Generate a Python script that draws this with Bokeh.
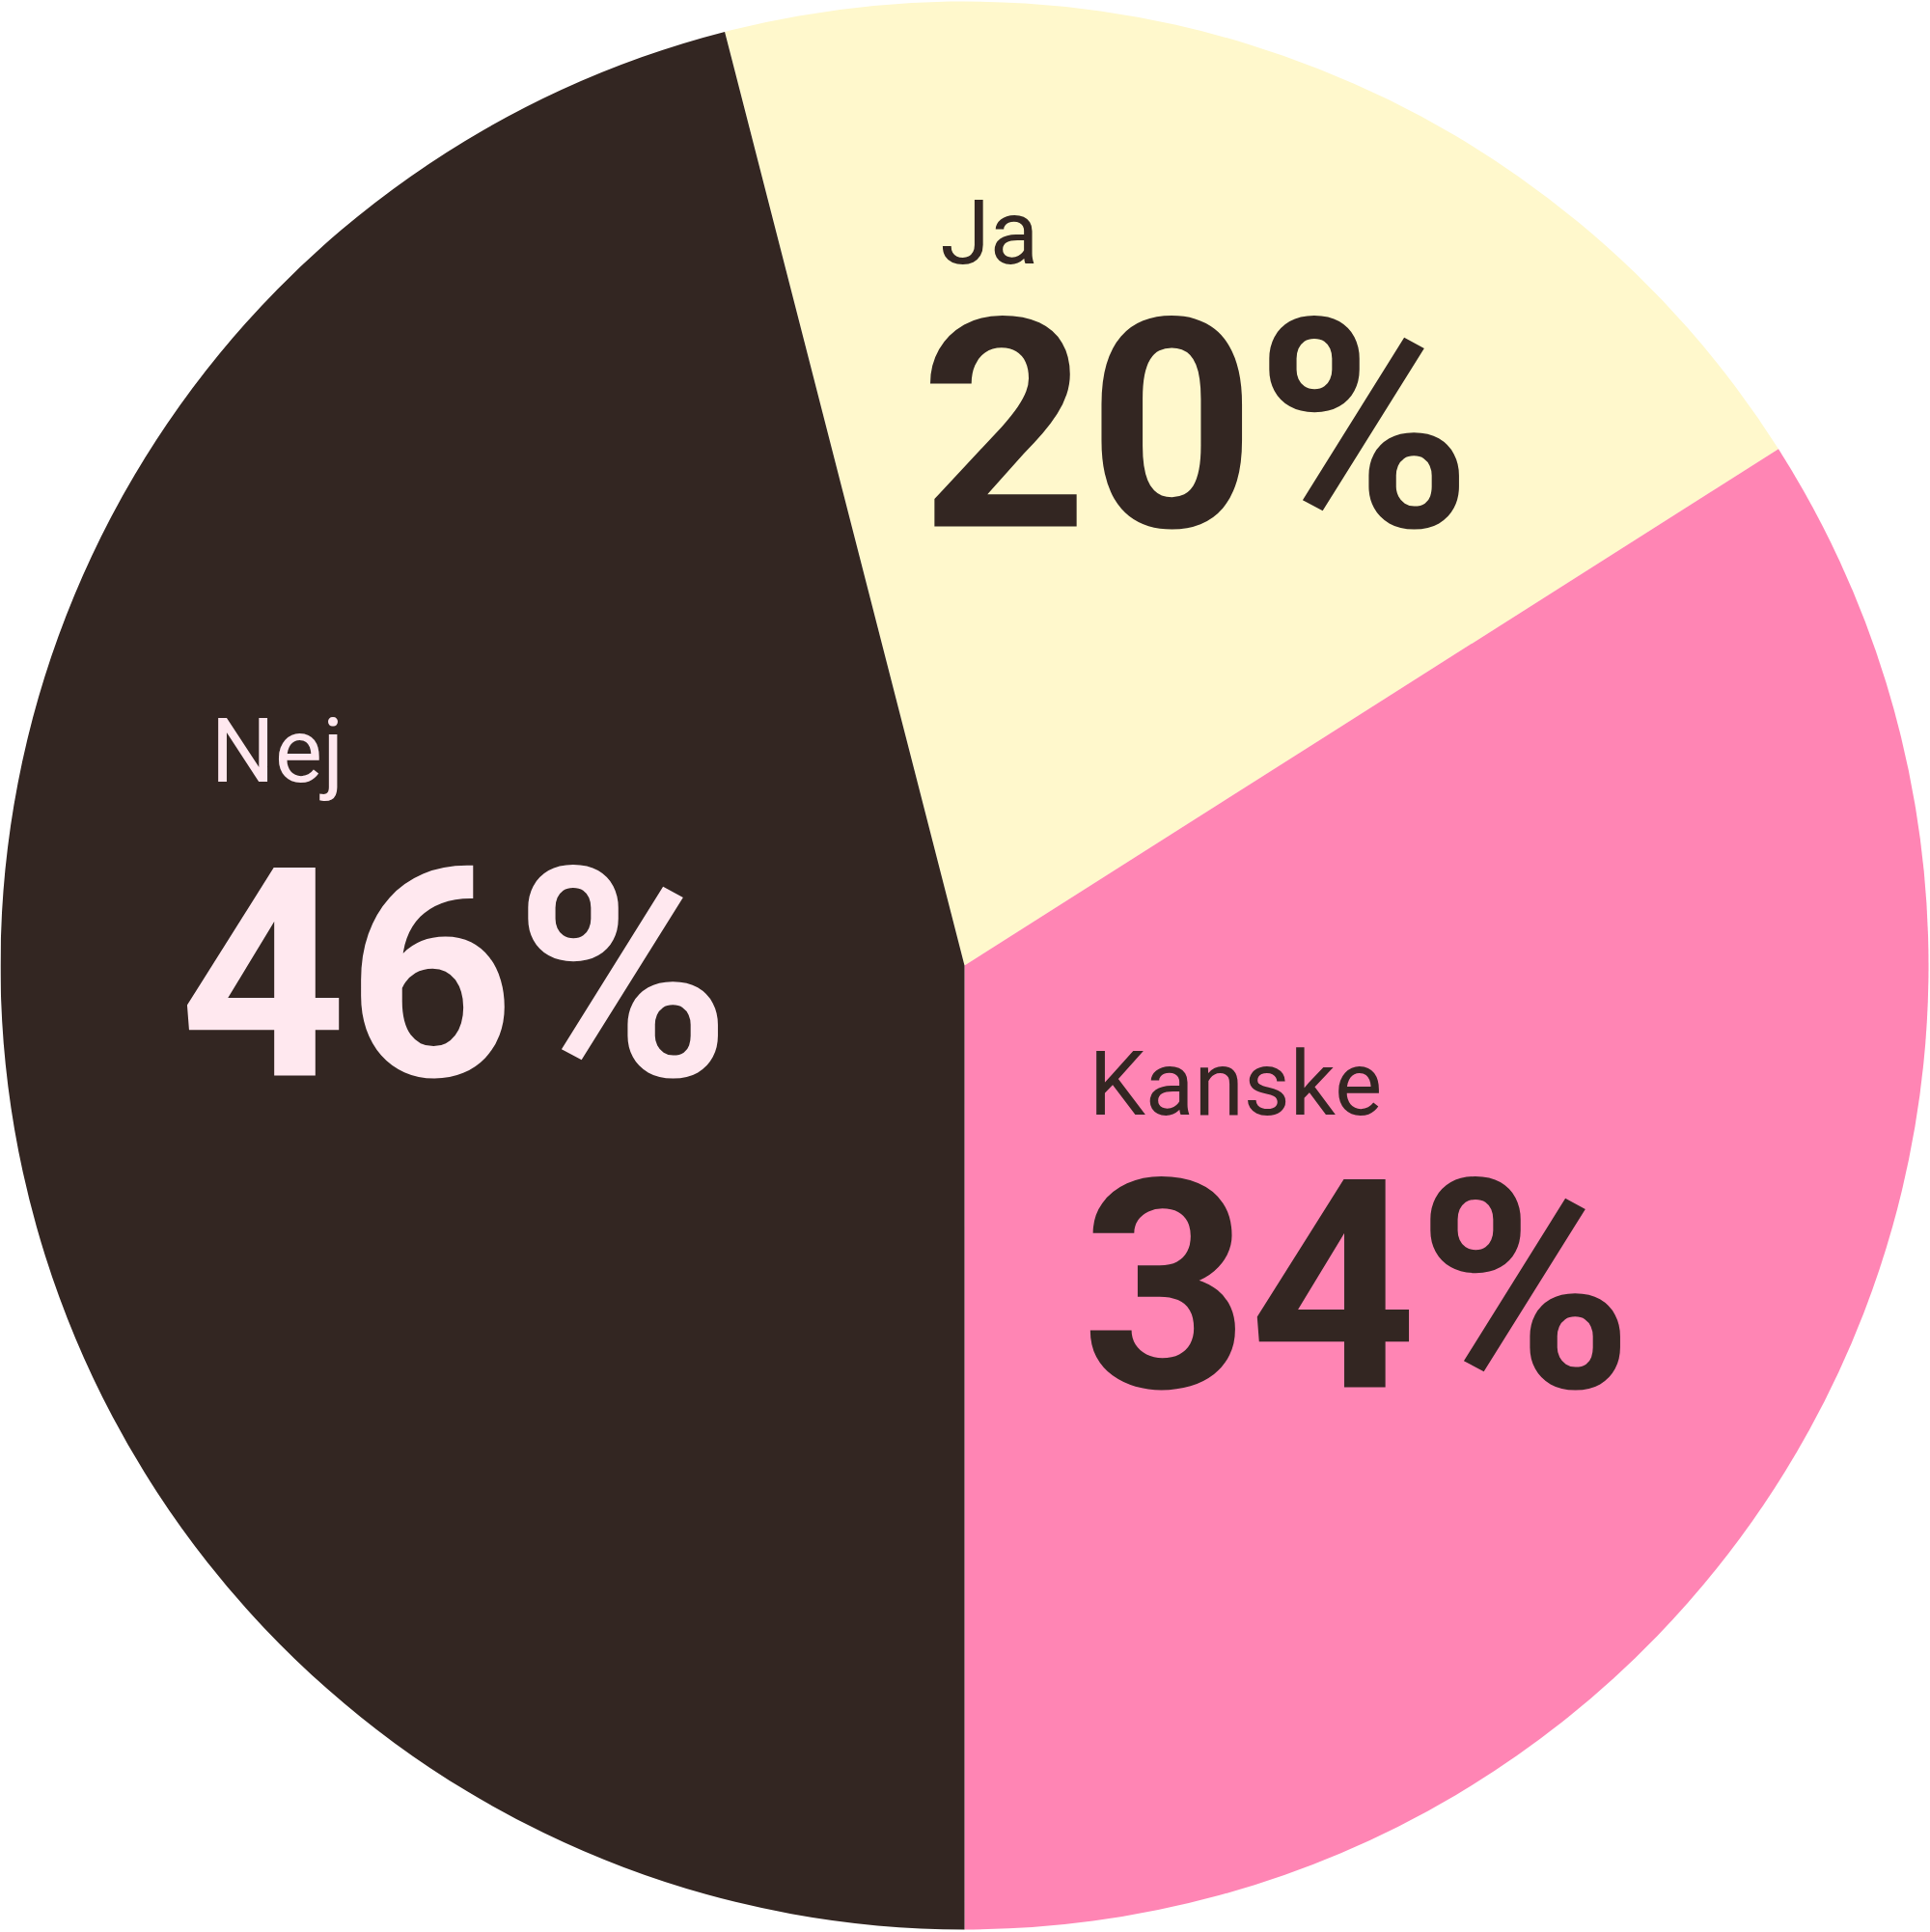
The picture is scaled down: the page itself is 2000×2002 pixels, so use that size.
import math
from bokeh.plotting import figure
from bokeh.models import ColumnDataSource, Range1d
from bokeh.core.properties import value
from bokeh.embed import file_html
from bokeh.resources import INLINE

# ---- data ----
categories = ["Ja", "Kanske", "Nej"]
values = [20, 34, 46]
pct_labels = ["20%", "34%", "46%"]
colors = ["#FFF8CC", "#FF85B4", "#332622"]
text_colors = ["#332622", "#332622", "#FFE8EF"]

# ---- layout constants (reference pixel coords, y down) ----
W, H = 2000, 2002
CX, CY, R = 999, 1000, 999
START_CW_DEG = -14.4          # clockwise from 12 o'clock where first slice starts
label_pos = [(974, 272), (1128, 1154), (218, 809)]     # small label baselines
pct_pos = [(953, 543), (1120, 1435), (185, 1112)]      # big number baselines
LABEL_FS = 93
PCT_FS = 303
BASELINE_FIX = 0.335          # em offset correcting renderer baseline

PW, PH = 2000, 2002
scale = PW / W

total = sum(values)
starts, ends = [], []
acc = START_CW_DEG
for v in values:
    a0 = acc
    a1 = acc + 360.0 * v / total
    starts.append(math.radians(90 - a0))
    ends.append(math.radians(90 - a1))
    acc = a1

src = ColumnDataSource(dict(cat=categories, start=starts, end=ends, color=colors))

p = figure(width=PW, height=PH, output_backend="svg", toolbar_location=None,
           x_range=Range1d(0, W), y_range=Range1d(0, H), min_border=0,
           background_fill_color="white", border_fill_color="white")
p.axis.visible = False
p.grid.visible = False
p.outline_line_color = None

p.wedge(x=CX, y=H - CY, radius=R, start_angle="start", end_angle="end",
        direction="clock", fill_color="color", line_color=None, source=src)

lab_src = ColumnDataSource(dict(
    x=[q[0] for q in label_pos],
    y=[H - q[1] + BASELINE_FIX * LABEL_FS for q in label_pos],
    text=categories, color=text_colors))
pct_src = ColumnDataSource(dict(
    x=[q[0] for q in pct_pos],
    y=[H - q[1] + BASELINE_FIX * PCT_FS for q in pct_pos],
    text=pct_labels, color=text_colors))

p.text(x="x", y="y", text="text", text_color="color", source=lab_src,
       text_font=value("Roboto"), text_font_size=f"{LABEL_FS*scale:.1f}px",
       text_align="left", text_baseline="alphabetic")
p.text(x="x", y="y", text="text", text_color="color", source=pct_src,
       text_font=value("Roboto"), text_font_style="bold",
       text_font_size=f"{PCT_FS*scale:.1f}px",
       text_align="left", text_baseline="alphabetic")

open("out.html", "w").write(file_html(p, INLINE))
